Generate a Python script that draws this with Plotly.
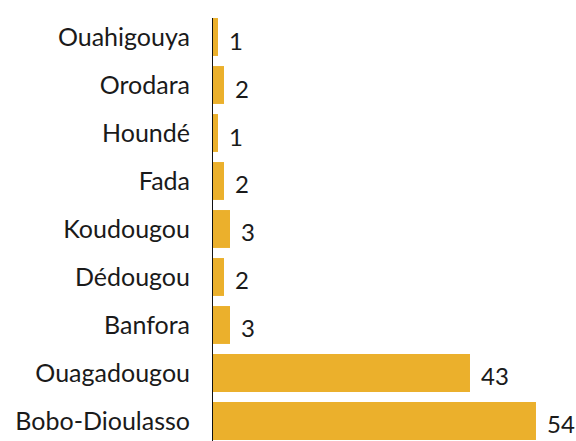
import plotly.graph_objects as go

cities = ["Ouahigouya", "Orodara", "Houndé", "Fada", "Koudougou",
          "Dédougou", "Banfora", "Ouagadougou", "Bobo-Dioulasso"]
counts = [1, 2, 1, 2, 3, 2, 3, 43, 54]

FONT = "Lato, 'Open Sans', sans-serif"

fig = go.Figure(go.Bar(
    y=cities, x=counts, orientation="h",
    marker=dict(color="#EBB02C", line=dict(width=0)),
    hoverinfo="skip",
))

for c, v in zip(cities, counts):
    fig.add_annotation(x=v, y=c, xref="x", yref="y", text=str(v),
                       showarrow=False, xanchor="left", xshift=9, yshift=-3,
                       font=dict(family=FONT, size=24, color="#1a1a1a"))

fig.add_shape(type="line", xref="x", yref="y", x0=0, x1=0, y0=-0.395, y1=8.6,
              line=dict(color="#111111", width=2))

fig.update_layout(
    width=576, height=441,
    margin=dict(l=212, r=0, t=13, b=0),
    paper_bgcolor="white", plot_bgcolor="white",
    bargap=0.21,
    showlegend=False,
    xaxis=dict(range=[0, 60.67], visible=False),
    yaxis=dict(categoryorder="array", categoryarray=cities, automargin=False,
               range=[8.417, -0.5], showgrid=False, showline=False,
               ticks="", ticklabelstandoff=21,
               tickfont=dict(family=FONT, size=25, color="#1a1a1a")),
)

fig.write_html("out.html", config={"displayModeBar": False},
               post_script="document.body.style.margin='0';")
